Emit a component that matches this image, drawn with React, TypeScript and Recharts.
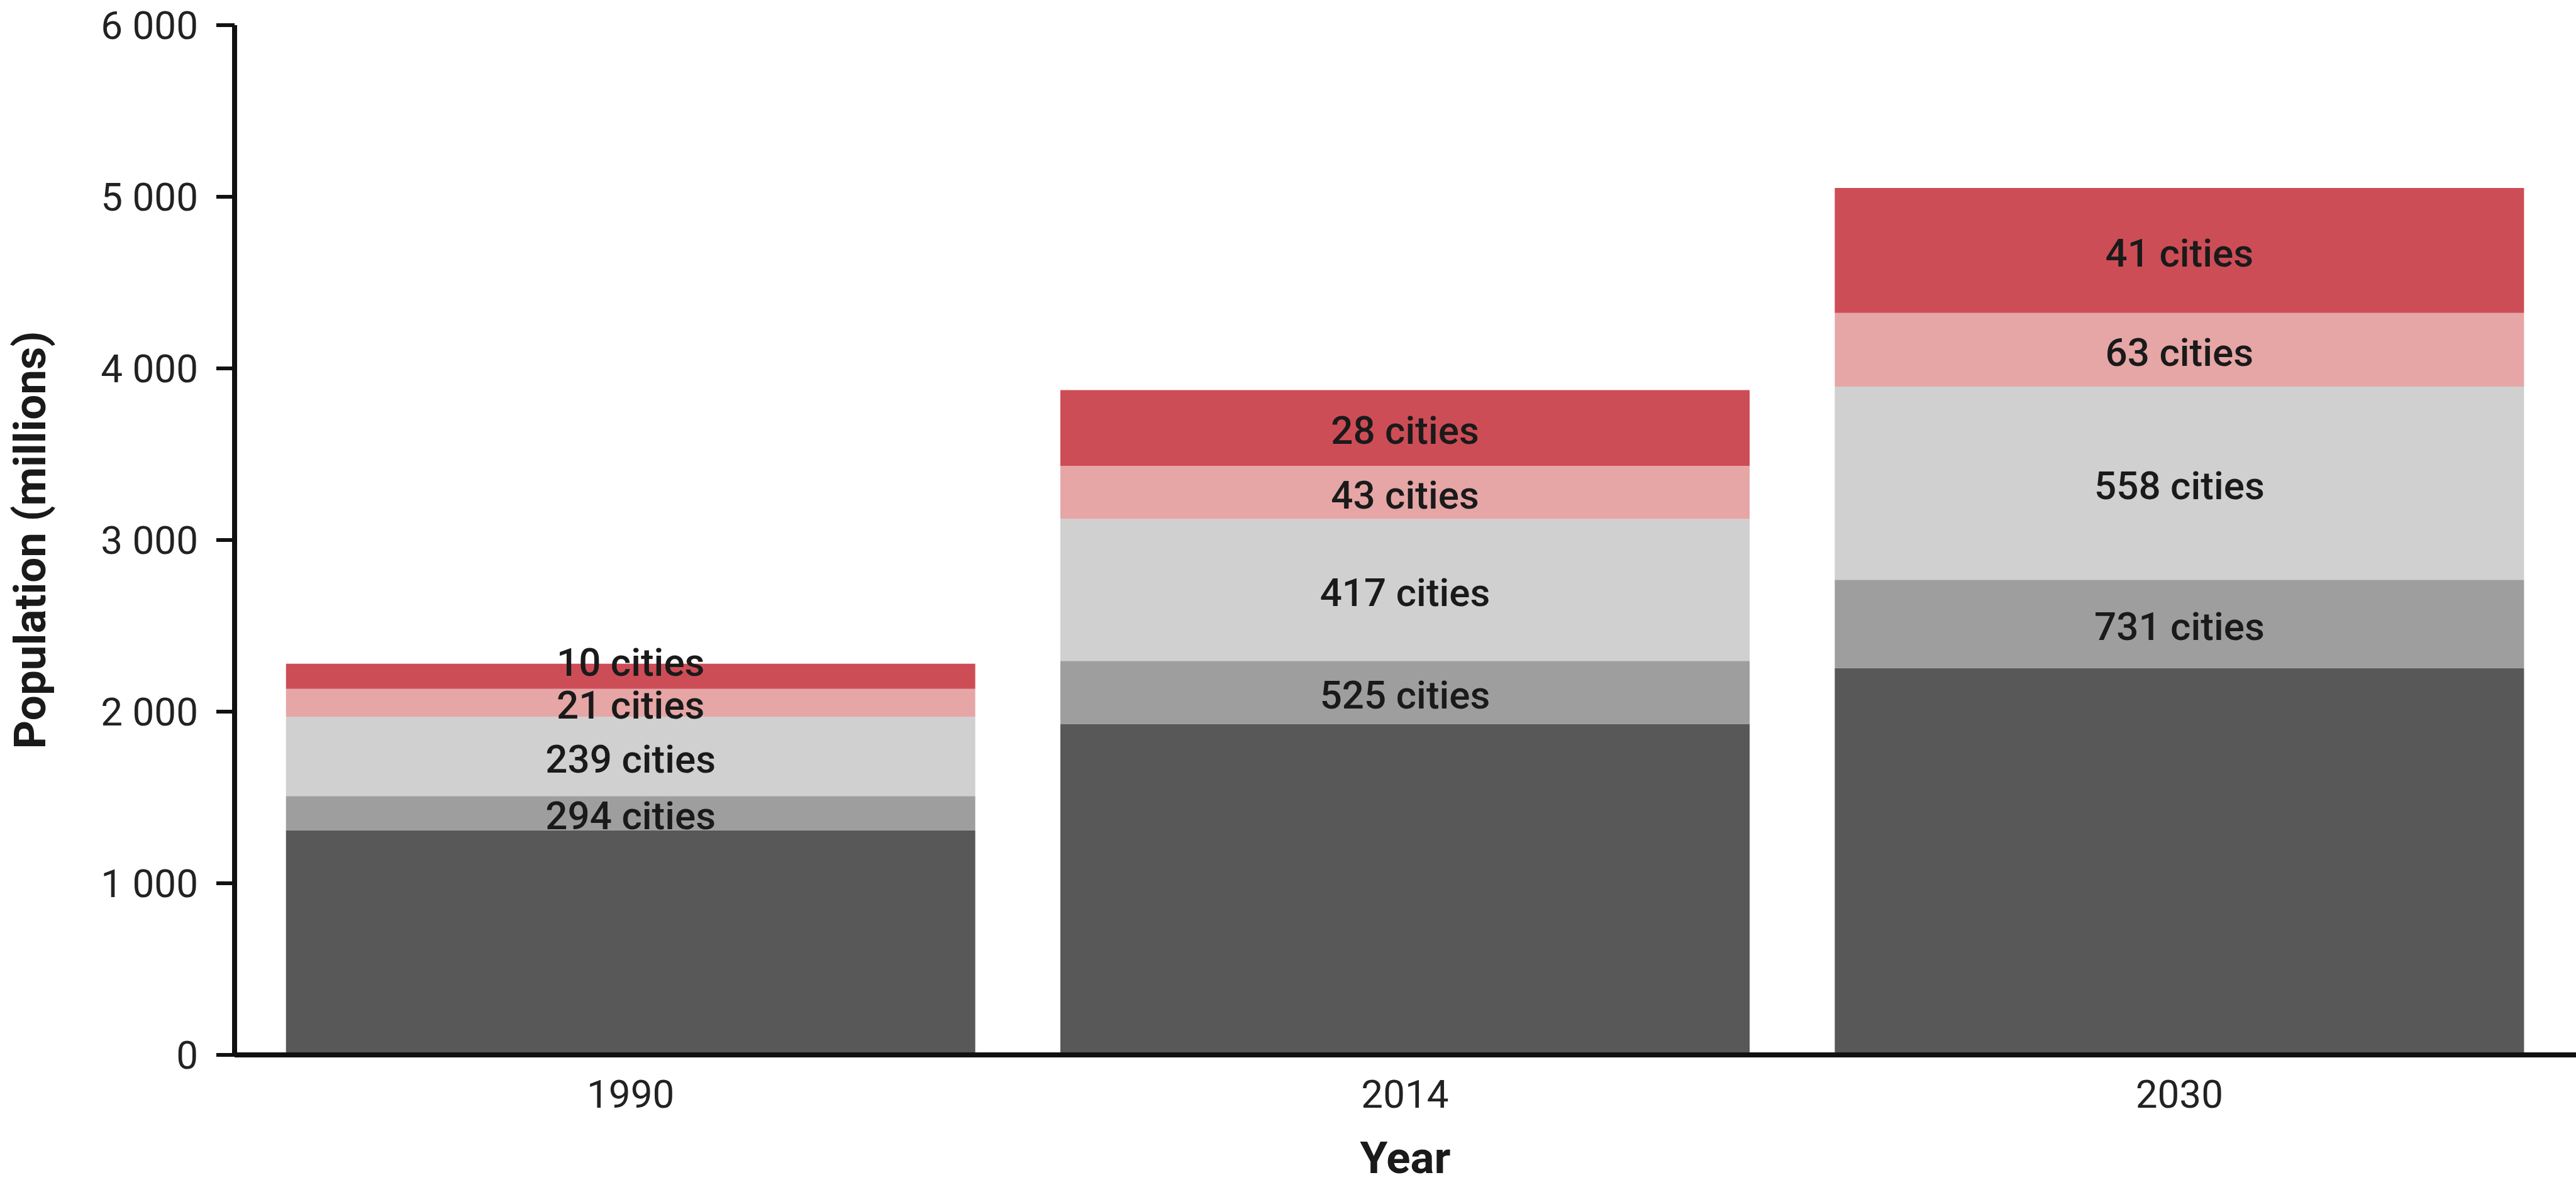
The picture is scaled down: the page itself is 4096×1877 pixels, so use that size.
import React from 'react';
import { BarChart, Bar, XAxis, YAxis, LabelList, Label } from 'recharts';

const years = ['1990', '2014', '2030'];

// Population (millions) by city size class, bottom to top
const popUnder500k = [1309, 1929, 2254];
const pop500kTo1m = [199, 367, 514];
const pop1mTo5m = [463, 827, 1126];
const pop5mTo10m = [162, 309, 429];
const pop10mPlus = [146, 442, 728];

// Number of cities in each class
const cities500kTo1m = [294, 525, 731];
const cities1mTo5m = [239, 417, 558];
const cities5mTo10m = [21, 43, 63];
const cities10mPlus = [10, 28, 41];

const yTicks = [0, 1000, 2000, 3000, 4000, 5000, 6000];
const yTickLabels = ['0', '1 000', '2 000', '3 000', '4 000', '5 000', '6 000'];

const series = [
  { key: 'under500k', values: popUnder500k, cities: null as number[] | null, color: '#585858' },
  { key: 's500kTo1m', values: pop500kTo1m, cities: cities500kTo1m, color: '#9e9e9e' },
  { key: 's1mTo5m', values: pop1mTo5m, cities: cities1mTo5m, color: '#d0d0d0' },
  { key: 's5mTo10m', values: pop5mTo10m, cities: cities5mTo10m, color: '#e6a6a6' },
  { key: 's10mPlus', values: pop10mPlus, cities: cities10mPlus, color: '#cd4d56' },
];

const data = years.map((year, i) => {
  const row: Record<string, any> = { year };
  series.forEach((s) => {
    row[s.key] = s.values[i];
    row[s.key + 'Label'] = s.cities ? `${s.cities[i]} cities` : '';
  });
  return row;
});

const FONT = 'Roboto, "Noto Sans", sans-serif';
const MIN_LABEL_SEP = 68;

// Compute label centre for series k in category i, pushing labels up when they would collide
function labelCenter(k: number, i: number, segY: number, segH: number): number {
  const ppu = segH / series[k].values[i];
  let cumBelowK = 0;
  for (let m = 0; m < k; m++) cumBelowK += series[m].values[i];
  const baseY = segY + segH + cumBelowK * ppu; // pixel of value 0
  let prev = Infinity;
  let cum = 0;
  let result = segY + segH / 2;
  for (let j = 0; j <= k; j++) {
    const bottom = baseY - cum * ppu;
    cum += series[j].values[i];
    const top = baseY - cum * ppu;
    if (!series[j].cities) continue;
    const center = (top + bottom) / 2;
    const pos = Math.min(center, prev - MIN_LABEL_SEP);
    prev = pos;
    if (j === k) result = pos;
  }
  return result;
}

const makeSegmentLabel = (k: number) => (props: any) => {
  const { x, y, width, height, value, index } = props;
  if (!value) return null;
  const cy = labelCenter(k, Number(index), Number(y), Number(height));
  return (
    <text
      x={Number(x) + Number(width) / 2}
      y={cy}
      dy={4}
      textAnchor="middle"
      dominantBaseline="central"
      fontSize={62}
      fontWeight={500}
      fill="#1a1a1a"
      fontFamily={FONT}
    >
      {value}
    </text>
  );
};

const YTitle = (props: any) => {
  const vb = props.viewBox || {};
  const cx = (vb.x || 0) + 47;
  const cy = (vb.y || 0) + (vb.height || 0) / 2;
  return (
    <text
      x={cx}
      y={cy}
      transform={`rotate(-90, ${cx}, ${cy})`}
      textAnchor="middle"
      dominantBaseline="central"
      fontSize={71}
      fontWeight={700}
      fill="#1a1a1a"
      fontFamily={FONT}
    >
      Population (millions)
    </text>
  );
};

const XTitle = (props: any) => {
  const vb = props.viewBox || {};
  const cx = (vb.x || 0) + (vb.width || 0) / 2;
  return (
    <text
      x={cx}
      y={1866}
      textAnchor="middle"
      fontSize={71}
      fontWeight={700}
      fill="#1a1a1a"
      fontFamily={FONT}
    >
      Year
    </text>
  );
};

export default function App() {
  return (
    <div style={{ position: 'absolute', left: 0, top: 0, width: 4096, height: 1877, background: '#fff', fontFamily: FONT }}>
      <BarChart
        width={4096}
        height={1877}
        data={data}
        margin={{ top: 40, right: 0, bottom: 0, left: 0 }}
        barCategoryGap="5.5%"
      >
        <XAxis
          dataKey="year"
          height={199}
          padding={{ left: 14, right: 15 }}
          tickLine={false}
          tickSize={0}
          tickMargin={40}
          axisLine={{ stroke: '#111', strokeWidth: 8 }}
          tick={{ fontSize: 62, fill: '#222', fontFamily: FONT }}
        >
          <Label content={<XTitle />} />
        </XAxis>
        <YAxis
          width={373}
          domain={[0, 6000]}
          ticks={yTicks}
          interval={0}
          tickFormatter={(v: number) => yTickLabels[yTicks.indexOf(v)]}
          tickSize={29}
          tickMargin={29}
          tickLine={{ stroke: '#111', strokeWidth: 6 }}
          axisLine={{ stroke: '#111', strokeWidth: 8 }}
          tick={{ fontSize: 62, fill: '#222', fontFamily: FONT }}
        >
          <Label content={<YTitle />} />
        </YAxis>
        {series.map((s, k) => (
          <Bar key={s.key} dataKey={s.key} stackId="pop" fill={s.color} isAnimationActive={false}>
            {s.cities ? <LabelList dataKey={s.key + 'Label'} content={makeSegmentLabel(k)} /> : null}
          </Bar>
        ))}
      </BarChart>
    </div>
  );
}
